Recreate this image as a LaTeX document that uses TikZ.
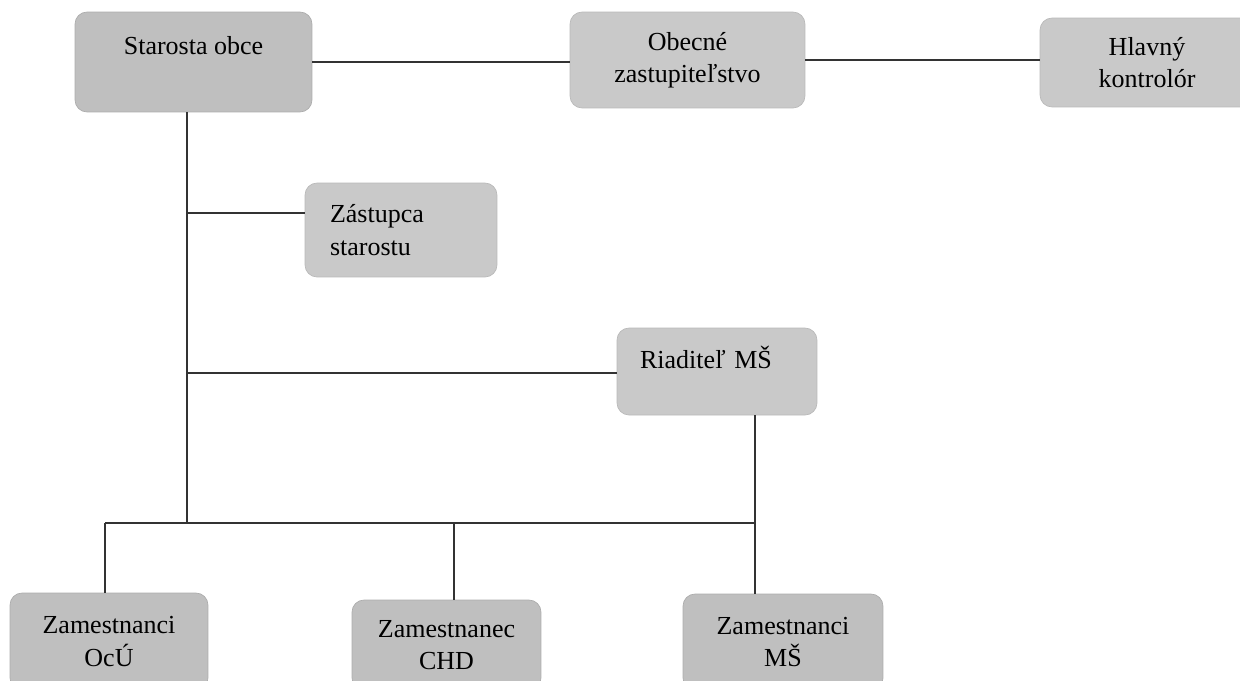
\documentclass[tikz,border=0pt]{standalone}
\usepackage{fontspec}
\setmainfont{Liberation Serif}

\begin{document}
\begin{tikzpicture}[x=0.02cm,y=-0.02cm,
   unit/.style={rounded corners=0.24cm,fill=gray!42,draw=gray!55,line width=0.4pt,
      font=\fontsize{14.8}{18.5}\selectfont,align=center,inner sep=0pt},
   unitdark/.style={unit,fill=gray!50,draw=gray!65},
   unitleft/.style={unit,align=left},
   link/.style={black!80,line width=1pt}]
   \clip (0,0) rectangle (1240,680);
   \node[unitdark,minimum width=4.74cm,minimum height=2cm,text depth=19pt] (staro) at (193.5,62) {Starosta obce};
   \node[unit,minimum width=4.7cm,minimum height=1.92cm] (obec) at (687.5,60) {Obecné\\zastupiteľstvo};
   \node[unit,minimum width=4.28cm,minimum height=1.78cm] (hlav) at (1147,62.5) {Hlavný\\kontrolór};
   \node[unitleft,text width=2.84cm,inner xsep=0.5cm,minimum height=1.88cm] (zast) at (401,230) {Zástupca\\starostu};
   \node[unitleft,text width=3.08cm,inner xsep=0.46cm,minimum height=1.74cm,text depth=15.8pt] (riad) at (717,371.5) {Riaditeľ MŠ};
   \node[unitdark,minimum width=3.96cm,minimum height=1.94cm] (zocu) at (109,641.5) {Zamestnanci\\OcÚ};
   \node[unitdark,minimum width=3.78cm,minimum height=1.8cm] (chd) at (446.5,645) {Zamestnanec\\CHD};
   \node[unitdark,minimum width=4cm,minimum height=1.92cm] (zms) at (783,642) {Zamestnanci\\MŠ};
   % junctions
   \coordinate (trunk) at (187,523);
   \coordinate (jz) at (187,213);
   \coordinate (jr) at (187,373);
   \coordinate (busl) at (105,523);
   \coordinate (busc) at (454,523);
   \coordinate (busr) at (755,523);
   \draw[link] (staro.east) -- (staro.east -| obec.west);
   \draw[link] (obec.east) -- (obec.east -| hlav.west);
   \draw[link] (staro.south -| trunk) -- (trunk);
   \draw[link] (jz) -- (jz -| zast.west);
   \draw[link] (jr) -- (jr -| riad.west);
   \draw[link] (busl) -- (busr);
   \draw[link] (busl) -- (busl |- zocu.north);
   \draw[link] (busc) -- (busc |- chd.north);
   \draw[link] (riad.south -| busr) -- (busr |- zms.north);
\end{tikzpicture}
\end{document}
